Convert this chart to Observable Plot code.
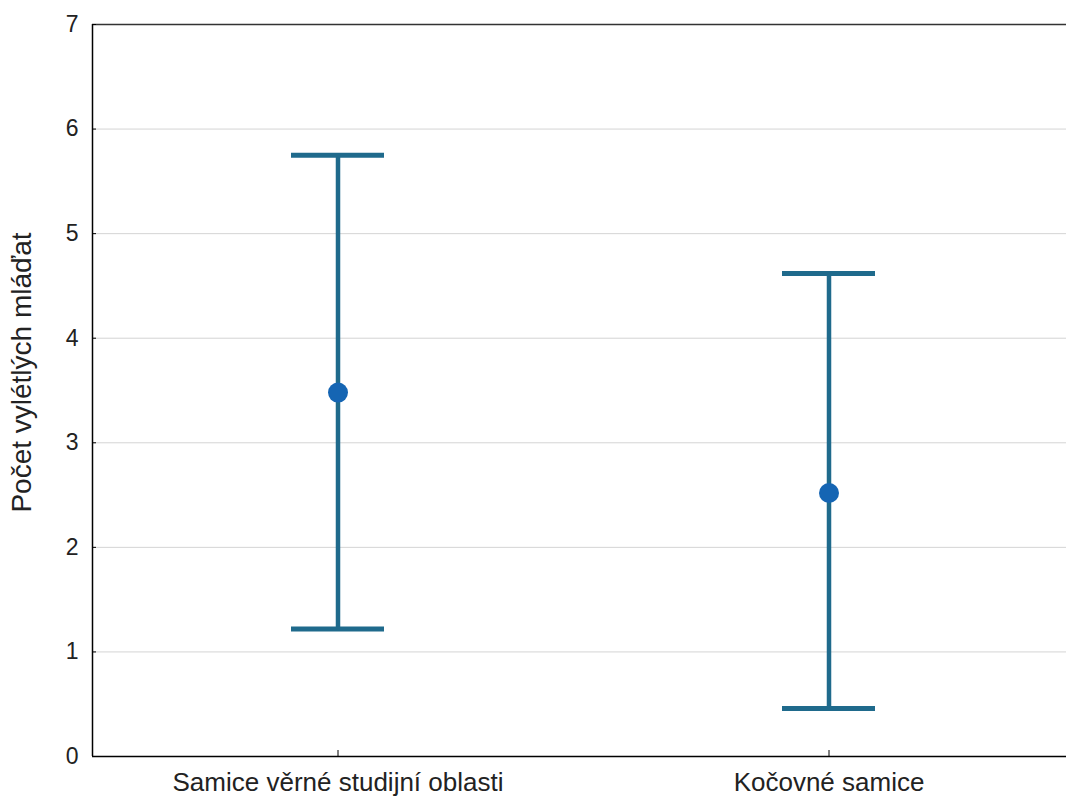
<!DOCTYPE html>
<html>
<head>
<meta charset="utf-8">
<script src="https://cdn.jsdelivr.net/npm/d3@7"></script>
<script src="https://cdn.jsdelivr.net/npm/@observablehq/plot@0.6"></script>
<style>
  html, body { margin: 0; padding: 0; background: #fff; }
  #chart svg { display: block; }
</style>
</head>
<body>
<div id="chart"></div>
<script>
const categories = ["Samice věrné studijní oblasti", "Kočovné samice"];
const means = [3.48, 2.52];
const lower = [1.22, 0.46];
const upper = [5.75, 4.62];
const yTicks = [0, 1, 2, 3, 4, 5, 6, 7];
const yLabel = "Počet vylétlých mláďat";

const data = categories.map((c, i) => ({cat: c, mean: means[i], lo: lower[i], hi: upper[i]}));

const lineColor = "#1f6a8c";
const dotColor = "#1565b3";

const chart = Plot.plot({
  width: 1066,
  height: 797,
  marginTop: 24,
  marginBottom: 41,
  marginLeft: 92,
  marginRight: 0,
  style: {fontFamily: "'Liberation Sans', Arial, sans-serif", background: "#fff", overflow: "visible"},
  x: {type: "band", domain: categories, range: [92, 1074], paddingInner: 0.8106, paddingOuter: 0.405, label: null, axis: null},
  y: {domain: [0, 7], label: null, axis: null},
  marks: [
    Plot.ruleY(yTicks.filter(d => d > 0 && d < 7), {stroke: "#d4d4d4", strokeWidth: 1}),
    Plot.ruleY([7], {stroke: "#333", strokeWidth: 1.5}),
    Plot.axisY({ticks: yTicks, tickFormat: "d", tickSize: -4, tickPadding: 18, fontSize: 23, fill: "#222", label: null, stroke: "#000"}),
    Plot.axisX({tickSize: -6, tickPadding: 22, fontSize: 26, fill: "#222", label: null, stroke: "#000"}),
    Plot.text([yLabel], {frameAnchor: "left", textAnchor: "middle", rotate: -90, dx: -70, dy: -18, fontSize: 28, fill: "#222"}),
    Plot.ruleX(data, {x: "cat", y1: "lo", y2: "hi", stroke: lineColor, strokeWidth: 4.5}),
    Plot.tickY(data, {x: "cat", y: "lo", stroke: lineColor, strokeWidth: 5}),
    Plot.tickY(data, {x: "cat", y: "hi", stroke: lineColor, strokeWidth: 5}),
    Plot.dot(data, {x: "cat", y: "mean", r: 10, fill: dotColor, stroke: "none"}),
    Plot.ruleX([0], {x: () => categories[0], dx: -245.5, stroke: "#000", strokeWidth: 1.5}),
    Plot.ruleY([0], {stroke: "#000", strokeWidth: 1.5})
  ]
});
document.getElementById("chart").appendChild(chart);
</script>
</body>
</html>
